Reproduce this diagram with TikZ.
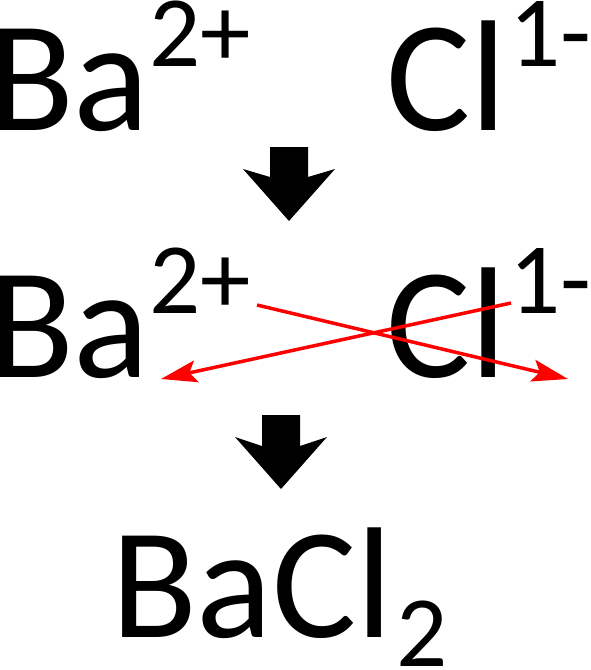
\documentclass[tikz,border=0pt]{standalone}
\usepackage{fontspec}
\setmainfont{Carlito}
\usetikzlibrary{arrows.meta}
\tikzset{
  txt/.style={inner sep=0pt, outer sep=0pt, anchor=base west, font=\fontsize{158}{158}\selectfont},
  suptxt/.style={inner sep=0pt, outer sep=0pt, anchor=base west, font=\fontsize{101}{101}\selectfont},
  blockarrow/.style={fill=black, draw=none},
  swap/.style={draw=red, line width=3.5pt, -{Stealth[length=36pt, width=22pt, inset=7pt]}}
}
\begin{document}
\begin{tikzpicture}[x=1pt, y=-1pt]
\useasboundingbox (0,0) rectangle (590,670);
% top row
\node[txt] (ba1) at (-12,130) {Ba};
\node[suptxt] (ba1c) at (149,66) {2+};
\node[txt] (cl1) at (386,130) {Cl};
\node[suptxt] (cl1c) at (509,66) {1-};
% first block arrow
\path[blockarrow] (270,147) -- (308,147) -- (308,177) -- (335,169) -- (289,221) -- (243,169) -- (270,177) -- cycle;
% middle row
\node[txt] (ba2) at (-12,377) {Ba};
\node[suptxt] (ba2c) at (149,313) {2+};
\node[txt] (cl2) at (386,377) {Cl};
\node[suptxt] (cl2c) at (509,313) {1-};
% crossing arrows
\coordinate (s1) at (257,305);
\coordinate (e1) at (568,379);
\coordinate (s2) at (511,303);
\coordinate (e2) at (161,379);
\draw[swap] (s1) -- (e1);
\draw[swap] (s2) -- (e2);
% second block arrow
\path[blockarrow] (262,415) -- (300,415) -- (300,446) -- (327,437) -- (281,489) -- (235,437) -- (262,446) -- cycle;
% bottom
\node[txt] (bacl) at (111,637) {BaCl};
\node[suptxt] (sub) at (396,666) {2};
\end{tikzpicture}
\end{document}
